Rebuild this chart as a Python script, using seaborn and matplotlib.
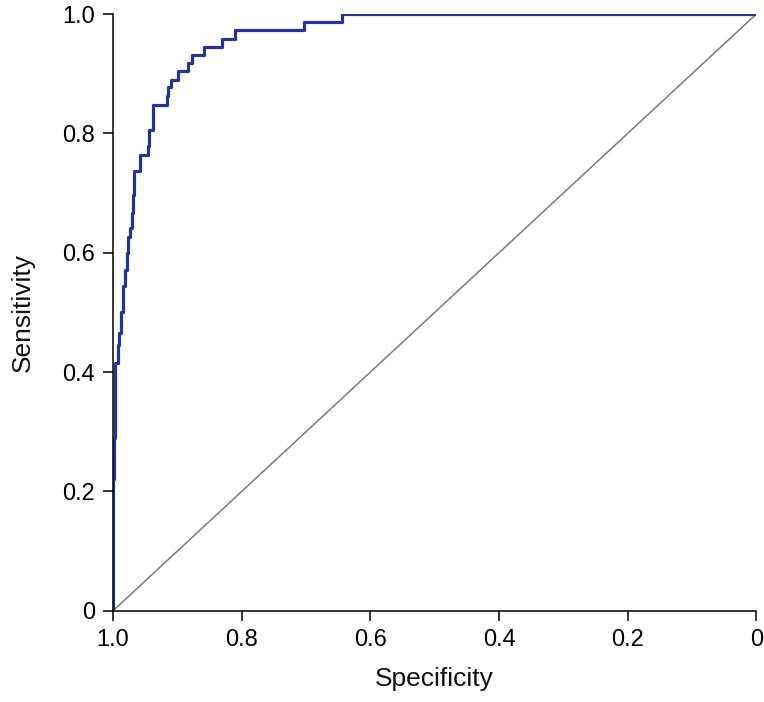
import numpy as np
import pandas as pd
import matplotlib
matplotlib.use("Agg")
import matplotlib.pyplot as plt
import seaborn as sns

# ROC curve corner points (1 - specificity, sensitivity)
fpr = [0.0, 0.0, 0.0015, 0.0023, 0.0076, 0.0098, 0.0121, 0.0152, 0.0182,
       0.0212, 0.0227, 0.0265, 0.0288, 0.0303, 0.0318, 0.0424, 0.0538,
       0.0561, 0.0614, 0.0841, 0.0856, 0.0894, 0.1015, 0.1167, 0.1220,
       0.1417, 0.1689, 0.1894, 0.2970, 0.3553, 1.0]
sens = [0.0, 0.22, 0.29, 0.415, 0.445, 0.466, 0.50, 0.544, 0.571,
        0.60, 0.626, 0.641, 0.667, 0.696, 0.737, 0.764, 0.779,
        0.806, 0.848, 0.863, 0.878, 0.890, 0.904, 0.918, 0.932,
        0.945, 0.959, 0.973, 0.987, 1.0, 1.0]

xticks = [1.0, 0.8, 0.6, 0.4, 0.2, 0.0]
xticklabels = ["1.0", "0.8", "0.6", "0.4", "0.2", "0"]
yticks = [0.0, 0.2, 0.4, 0.6, 0.8, 1.0]
yticklabels = ["0", "0.2", "0.4", "0.6", "0.8", "1.0"]

df = pd.DataFrame({"Specificity": 1 - np.array(fpr), "Sensitivity": sens})

sns.set_theme(style="ticks")
plt.rcParams['font.family'] = ['Liberation Sans', 'DejaVu Sans']

fig = plt.figure(figsize=(7.64, 7.02), dpi=100)
ax = fig.add_axes([0.148, 0.130, 0.842, 0.850])

# reference diagonal
sns.lineplot(x=[1.0, 0.0], y=[0.0, 1.0], ax=ax, color="#7a7a7a", linewidth=1.1)

sns.lineplot(data=df, x="Specificity", y="Sensitivity", ax=ax, sort=False,
             estimator=None, drawstyle="steps-post", color="#27358f",
             linewidth=2.3)

ax.set_xlim(1.0, 0.0)
ax.set_ylim(0.0, 1.0)
ax.set_xticks(xticks)
ax.set_xticklabels(xticklabels)
ax.set_yticks(yticks)
ax.set_yticklabels(yticklabels)
ax.tick_params(axis="both", direction="out", length=7, width=1.1,
               labelsize=17, color="black", labelcolor="black", pad=6)
ax.set_xlabel("Specificity", fontsize=19, labelpad=12, color="#111111")
ax.set_ylabel("Sensitivity", fontsize=19, labelpad=20, color="#111111")

for side in ["top", "right"]:
    ax.spines[side].set_visible(False)
for side in ["left", "bottom"]:
    ax.spines[side].set_color("black")
    ax.spines[side].set_linewidth(1.1)

plt.savefig("out.png", dpi=100)
plt.close()
